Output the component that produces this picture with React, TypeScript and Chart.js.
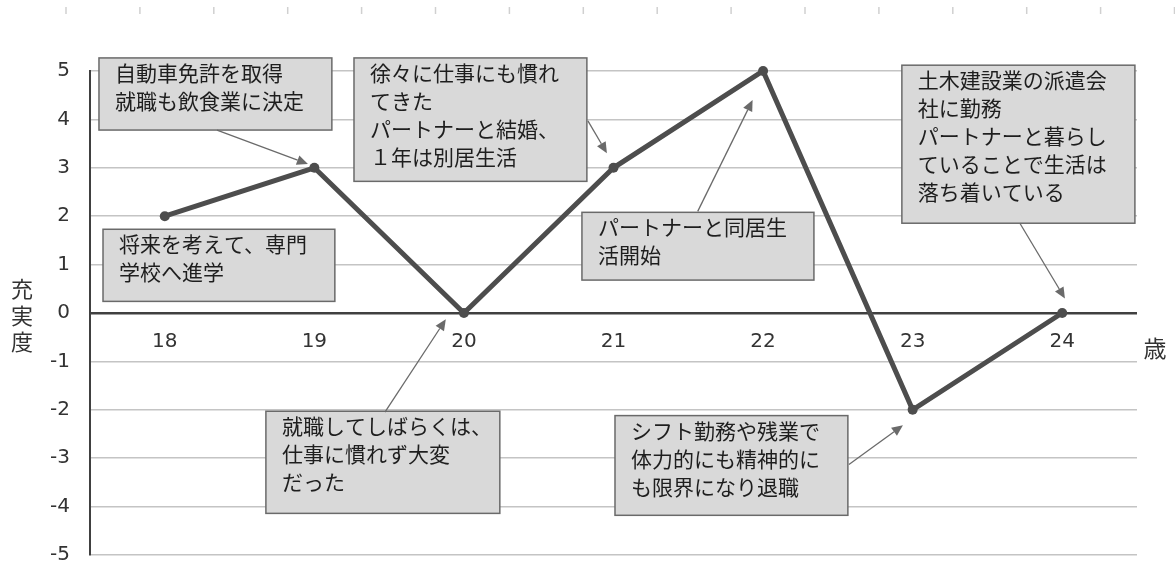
import React, { useEffect, useRef } from "react";
import { Chart, registerables } from "chart.js";

Chart.register(...registerables);

// ---- data ----
const ages = ["18", "19", "20", "21", "22", "23", "24"];
const fulfillment = [2, 3, 0, 3, 5, -2, 0];
const yMin = -5;
const yMax = 5;
const yAxisTitle = ["充", "実", "度"];
const xAxisUnit = "歳";

const noteTexts = [
  ["自動車免許を取得", "就職も飲食業に決定"],
  ["将来を考えて、専門", "学校へ進学"],
  ["徐々に仕事にも慣れ", "てきた", "パートナーと結婚、", "１年は別居生活"],
  ["パートナーと同居生", "活開始"],
  ["土木建設業の派遣会", "社に勤務", "パートナーと暮らし", "ていることで生活は", "落ち着いている"],
  ["就職してしばらくは、", "仕事に慣れず大変", "だった"],
  ["シフト勤務や残業で", "体力的にも精神的に", "も限界になり退職"],
];

// ---- annotation layout (data units: category index, value) ----
const noteBoxes = [
  [-0.44, 5.27, 1.117, 3.78],
  [-0.413, 1.73, 1.137, 0.24],
  [1.265, 5.27, 2.822, 2.72],
  [2.789, 2.08, 4.34, 0.68],
  [4.928, 5.12, 6.486, 1.855],
  [0.676, -2.03, 2.24, -4.14],
  [3.01, -2.12, 4.567, -4.18],
];
const noteArrows: (number[] | null)[] = [
  [0.349, 3.78, 0.957, 3.08],
  null,
  [2.829, 3.97, 2.956, 3.3],
  [3.563, 2.1, 3.93, 4.4],
  [5.717, 1.855, 6.018, 0.3],
  [1.472, -2.05, 1.879, -0.13],
  [4.574, -3.13, 4.935, -2.32],
];

const JP = '"Noto Sans CJK JP", "Noto Sans", sans-serif';
const LAT = '"DejaVu Sans", "Noto Sans", sans-serif';

const decorPlugin = {
  id: "decor",
  beforeDraw(chart: any) {
    const ctx = chart.ctx;
    ctx.save();
    ctx.strokeStyle = "#d0d0d0";
    ctx.lineWidth = 1.5;
    for (let x = 66; x < chart.width; x += 73.9) {
      ctx.beginPath();
      ctx.moveTo(x, 7);
      ctx.lineTo(x, 14);
      ctx.stroke();
    }
    ctx.restore();
  },
  afterDraw(chart: any) {
    const ctx = chart.ctx;
    const xs = chart.scales.x;
    const ys = chart.scales.y;
    const px = (v: number) => xs.getPixelForValue(v);
    const py = (v: number) => ys.getPixelForValue(v);
    ctx.save();
    // axis titles
    ctx.fillStyle = "#333";
    ctx.font = `22px ${JP}`;
    ctx.textAlign = "center";
    ctx.textBaseline = "middle";
    yAxisTitle.forEach((ch, i) => ctx.fillText(ch, 22, 289 + i * 26.5));
    ctx.font = `23px ${JP}`;
    ctx.fillText(xAxisUnit, 1155, 348);

    // boxes
    noteBoxes.forEach((b, i) => {
      const l = px(b[0]);
      const t = py(b[1]);
      const r = px(b[2]);
      const bt = py(b[3]);
      ctx.fillStyle = "#d9d9d9";
      ctx.fillRect(l, t, r - l, bt - t);
      ctx.strokeStyle = "#6a6a6a";
      ctx.lineWidth = 1.5;
      ctx.strokeRect(l, t, r - l, bt - t);
      ctx.fillStyle = "#1e1e1e";
      ctx.font = `21px ${JP}`;
      ctx.textAlign = "left";
      ctx.textBaseline = "middle";
      noteTexts[i].forEach((line, j) => ctx.fillText(line, l + 16, t + 15 + j * 28));
    });

    // arrows
    noteArrows.forEach((a) => {
      if (!a) return;
      const x1 = px(a[0]);
      const y1 = py(a[1]);
      const x2 = px(a[2]);
      const y2 = py(a[3]);
      const ang = Math.atan2(y2 - y1, x2 - x1);
      const L = 11;
      const W = 5;
      ctx.strokeStyle = "#6a6a6a";
      ctx.fillStyle = "#6a6a6a";
      ctx.lineWidth = 1.3;
      ctx.beginPath();
      ctx.moveTo(x1, y1);
      ctx.lineTo(x2 - Math.cos(ang) * L, y2 - Math.sin(ang) * L);
      ctx.stroke();
      ctx.beginPath();
      ctx.moveTo(x2, y2);
      ctx.lineTo(x2 - Math.cos(ang) * L - Math.sin(ang) * W, y2 - Math.sin(ang) * L + Math.cos(ang) * W);
      ctx.lineTo(x2 - Math.cos(ang) * L + Math.sin(ang) * W, y2 - Math.sin(ang) * L - Math.cos(ang) * W);
      ctx.closePath();
      ctx.fill();
    });
    ctx.restore();
  },
};

export default function App() {
  const ref = useRef<HTMLCanvasElement>(null);
  useEffect(() => {
    if (!ref.current) return;
    const chart = new Chart(ref.current, {
      type: "line",
      data: {
        labels: ages,
        datasets: [
          {
            data: fulfillment,
            borderColor: "#4d4d4d",
            backgroundColor: "#4d4d4d",
            borderWidth: 5,
            pointRadius: 5,
            pointBorderWidth: 0,
            pointBackgroundColor: "#4d4d4d",
            tension: 0,
            clip: false as any,
          },
        ],
      },
      options: {
        animation: false,
        responsive: false,
        maintainAspectRatio: false,
        layout: { padding: { left: 0, top: 71, right: 38, bottom: 7 } },
        plugins: { legend: { display: false }, tooltip: { enabled: false } },
        scales: {
          x: {
            type: "category",
            offset: true,
            position: { y: 0 } as any,
            afterFit(scale: any) {
              scale.height = 0;
              scale.paddingTop = 0;
              scale.paddingBottom = 0;
            },
            grid: { display: false, drawTicks: false },
            border: { display: false },
            ticks: { color: "#333", font: { family: LAT, size: 20 }, padding: 17, maxRotation: 0 },
          },
          y: {
            min: yMin,
            max: yMax,
            afterFit(scale: any) {
              scale.width = 90;
              scale.paddingTop = 0;
              scale.paddingBottom = 0;
            },
            ticks: { stepSize: 1, color: "#333", font: { family: LAT, size: 20 }, padding: 20 },
            grid: {
              drawTicks: false,
              color: (c: any) => (c.tick && c.tick.value === 0 ? "#404040" : "#c4c4c4"),
              lineWidth: (c: any) => (c.tick && c.tick.value === 0 ? 2.5 : 1.5),
            },
            border: { display: true, color: "#404040", width: 2 },
          },
        },
      },
      plugins: [decorPlugin],
    });
    return () => chart.destroy();
  }, []);
  return (
    <div style={{ position: "absolute", left: 0, top: 0, width: 1175, height: 562, background: "#fff" }}>
      <canvas ref={ref} width={1175} height={562} style={{ display: "block" }} />
    </div>
  );
}
